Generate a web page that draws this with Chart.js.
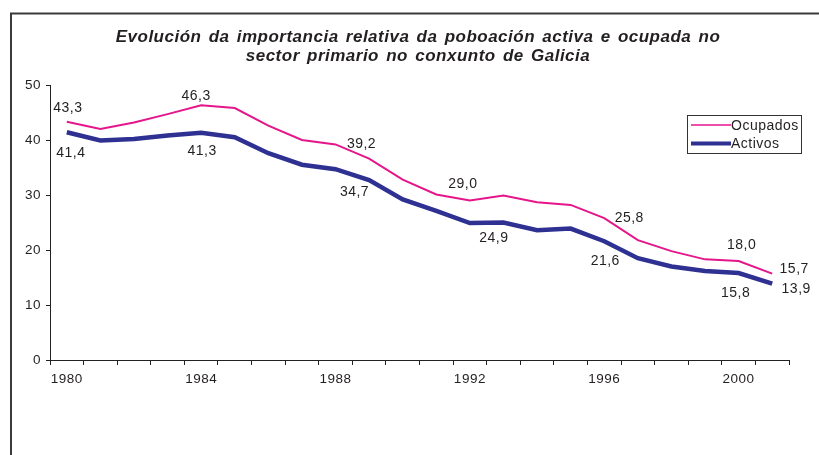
<!DOCTYPE html>
<html>
<head>
<meta charset="utf-8">
<title>Poboación activa e ocupada no sector primario</title>
<script src="https://cdn.jsdelivr.net/npm/chart.js@4.4.1/dist/chart.umd.min.js"></script>
<style>
  html, body { margin: 0; padding: 0; background: #fff; }
  #wrap { width: 819px; height: 455px; }
</style>
</head>
<body>
<div id="wrap"><canvas id="myChart" width="819" height="455"></canvas></div>
<script>
const years = ['1980', '1981', '1982', '1983', '1984', '1985', '1986', '1987', '1988', '1989', '1990',
               '1991', '1992', '1993', '1994', '1995', '1996', '1997', '1998', '1999', '2000', '2001'];
const yearLabels = ['1980', '1984', '1988', '1992', '1996', '2000'];
const ocupados = [43.3, 42.0, 43.2, 44.7, 46.3, 45.8, 42.6, 40.0, 39.2, 36.6, 32.8,
                  30.1, 29.0, 29.9, 28.7, 28.2, 25.8, 21.8, 19.8, 18.3, 18.0, 15.7];
const activos = [41.4, 39.9, 40.2, 40.8, 41.3, 40.5, 37.6, 35.5, 34.7, 32.7, 29.2,
                 27.1, 24.9, 25.0, 23.6, 23.9, 21.6, 18.5, 17.0, 16.2, 15.8, 13.9];
const labelledYears = ['1980', '1984', '1988', '1992', '1996', '2000', '2001'];
const titleLines = ['Evolución da importancia relativa da poboación activa e ocupada no',
                    'sector primario no conxunto de Galicia'];

const TEXT = '#231f20';
const FONT = '"Liberation Sans", Arial, sans-serif';

// label nudges in pixels, one per labelled year
const labelNudges = {
    Ocupados: [[1, -14], [-5, -9], [26, 0], [-7, -16], [25, 0], [3, -16], [22, -5]],
    Activos: [[4, 21], [1, 18], [19, 23], [24, 15], [1, 20], [-3, 20], [24, 6]]
};

const decorPlugin = {
    id: 'decor',
    beforeDraw(chart) {
        const ctx = chart.ctx;
        ctx.save();
        ctx.fillStyle = '#fff';
        ctx.fillRect(0, 0, chart.width, chart.height);
        // outer frame, only left and top edges fall inside the window
        ctx.strokeStyle = '#3a3a3a';
        ctx.lineWidth = 2;
        ctx.beginPath();
        ctx.moveTo(11, chart.height + 2);
        ctx.lineTo(11, 13.5);
        ctx.lineTo(chart.width + 2, 13.5);
        ctx.stroke();

        // title (drawn here so the letter spacing can match)
        ctx.font = 'italic bold 17px ' + FONT;
        ctx.letterSpacing = '0.5px';
        ctx.wordSpacing = '2px';
        ctx.fillStyle = TEXT;
        ctx.textAlign = 'center';
        ctx.textBaseline = 'alphabetic';
        ctx.fillText(titleLines[0], 418, 41.5);
        ctx.fillText(titleLines[1], 418, 60.5);
        ctx.restore();
        // the original text looks slightly stretched
        ctx.letterSpacing = '0.5px';
    },
    afterDatasetsDraw(chart) {
        const ctx = chart.ctx;
        const x = chart.scales.x;
        const y = chart.scales.y;
        ctx.save();
        ctx.font = '14px ' + FONT;
        ctx.letterSpacing = '0.5px';
        ctx.fillStyle = TEXT;
        ctx.textAlign = 'center';
        ctx.textBaseline = 'middle';
        chart.data.datasets.forEach((ds) => {
            const nudges = labelNudges[ds.label];
            labelledYears.forEach((yr, i) => {
                const idx = years.indexOf(yr);
                const v = ds.data[idx];
                const px = x.getPixelForValue(idx) + nudges[i][0];
                const py = y.getPixelForValue(v) + nudges[i][1];
                ctx.fillText(v.toFixed(1).replace('.', ','), px, py);
            });
        });

        // legend box
        const lx = 687, ly = 115.5, lw = 114, lh = 38;
        ctx.strokeStyle = '#333';
        ctx.lineWidth = 1;
        ctx.strokeRect(lx + 0.5, ly, lw, lh);
        ctx.textAlign = 'left';
        chart.data.datasets.forEach((ds, i) => {
            const ry = ly + 9.5 + i * 18.5;
            ctx.strokeStyle = ds.borderColor;
            ctx.lineWidth = ds.borderWidth - 0.5;
            ctx.beginPath();
            ctx.moveTo(lx + 4, ry);
            ctx.lineTo(lx + 44, ry);
            ctx.stroke();
            ctx.fillStyle = TEXT;
            ctx.fillText(ds.label, lx + 44, ry + 1);
        });
        ctx.restore();
    }
};

const ctx = document.getElementById('myChart');
const chart = new Chart(ctx, {
    type: 'line',
    data: {
        labels: years,
        datasets: [
            {
                label: 'Ocupados',
                data: ocupados,
                borderColor: '#e5158a',
                borderWidth: 2,
                pointRadius: 0,
                tension: 0
            },
            {
                label: 'Activos',
                data: activos,
                borderColor: '#2e3092',
                borderWidth: 4.5,
                pointRadius: 0,
                tension: 0
            }
        ]
    },
    options: {
        responsive: false,
        animation: false,
        events: [],
        layout: { padding: { left: 0, right: 30, top: 85, bottom: 0 } },
        plugins: {
            legend: { display: false },
            tooltip: { enabled: false },
            title: { display: false }
        },
        scales: {
            x: {
                offset: true,
                grid: { display: true, offset: true, drawOnChartArea: false, drawTicks: true,
                        tickLength: 5, color: '#222' },
                border: { display: true, color: '#222', width: 1 },
                ticks: {
                    autoSkip: false,
                    maxRotation: 0,
                    color: TEXT,
                    font: { family: FONT, size: 13.5 },
                    padding: 6,
                    callback: (val, i) => yearLabels.includes(years[i]) ? years[i] : ''
                },
                afterFit: (scale) => { scale.height = 95; }
            },
            y: {
                min: 0,
                max: 50,
                ticks: { stepSize: 10, color: TEXT, font: { family: FONT, size: 13.5 }, padding: 5 },
                grid: { display: true, drawOnChartArea: false, drawTicks: true, tickLength: 4, color: '#222' },
                border: { display: true, color: '#222', width: 1 },
                afterFit: (scale) => { scale.width = 50; }
            }
        }
    },
    plugins: [decorPlugin]
});
</script>
</body>
</html>
